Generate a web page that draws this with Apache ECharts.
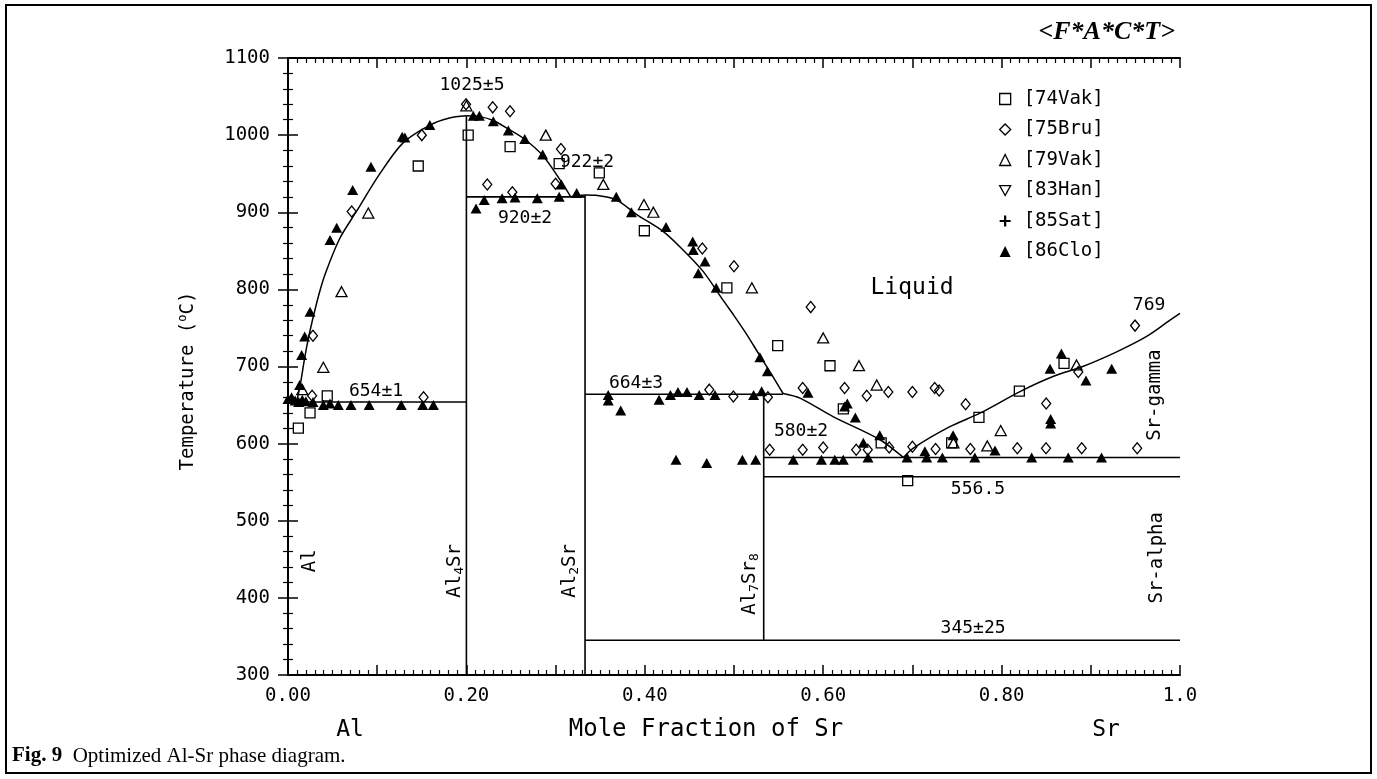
<!DOCTYPE html>
<html>
<head>
<meta charset="utf-8">
<script src="https://cdn.jsdelivr.net/npm/echarts@6/dist/echarts.min.js"></script>
<style>
html, body { margin: 0; padding: 0; background: #fff; }
#chart { width: 1377px; height: 779px; }
</style>
</head>
<body>
<div id="chart"></div>
<script>
// tick labels
var xTickText = ['0.00', '', '0.20', '', '0.40', '', '0.60', '', '0.80', '', '1.0'];
var yMin = 300, yMax = 1100, yStep = 100;

// experimental points [mole fraction Sr, T in C]
var vak74 = [[0.0116, 620], [0.0247, 640], [0.044, 662], [0.146, 960], [0.202, 1000], [0.249, 985], [0.304, 963],
    [0.349, 951], [0.3995, 876], [0.492, 802], [0.549, 727], [0.6076, 701], [0.6226, 645], [0.665, 601],
    [0.6947, 552], [0.744, 601], [0.7746, 634], [0.8199, 668], [0.87, 704]];
var bru75 = [[0.028, 740], [0.027, 662], [0.0714, 901], [0.15, 1000], [0.152, 660], [0.1996, 1040], [0.2234, 936],
    [0.2295, 1036], [0.2489, 1031], [0.2515, 926], [0.300, 937], [0.306, 982], [0.4645, 853], [0.4723, 670],
    [0.4993, 661], [0.5, 830], [0.538, 660], [0.540, 592], [0.577, 592], [0.577, 672], [0.586, 777], [0.600, 595],
    [0.624, 672], [0.637, 592], [0.6488, 662], [0.650, 592], [0.673, 667], [0.674, 595], [0.70, 667], [0.70, 596],
    [0.725, 672], [0.730, 669], [0.726, 593], [0.7597, 651], [0.765, 593], [0.8176, 594], [0.850, 652],
    [0.8498, 594], [0.886, 693], [0.8898, 594], [0.9496, 753], [0.952, 594]];
var vak79 = [[0.016, 670], [0.0396, 699], [0.06, 797], [0.09, 899], [0.2, 1038], [0.289, 1000], [0.3535, 936],
    [0.399, 910], [0.4096, 900], [0.52, 802], [0.6, 737], [0.6401, 701], [0.66, 676], [0.746, 601], [0.784, 597],
    [0.799, 617], [0.884, 702]];
var han83 = [];
var sat85 = [];
var clo86 = [[0.0, 658], [0.004, 660], [0.008, 656], [0.012, 654], [0.016, 657], [0.02, 655], [0.013, 676],
    [0.0153, 715], [0.0187, 739], [0.0247, 771], [0.028, 654], [0.0396, 650], [0.047, 652], [0.0564, 650],
    [0.0706, 650], [0.091, 650], [0.127, 650], [0.151, 650], [0.163, 650], [0.0471, 864], [0.0546, 880],
    [0.0725, 929], [0.093, 959], [0.128, 998], [0.131, 997], [0.159, 1013], [0.2077, 1025], [0.2145, 1025],
    [0.2302, 1018], [0.247, 1006], [0.2654, 995], [0.2855, 975], [0.3065, 936], [0.3236, 925], [0.2108, 905],
    [0.220, 916], [0.240, 918], [0.2545, 919], [0.2795, 918], [0.304, 920], [0.368, 920], [0.385, 900],
    [0.4238, 881], [0.4537, 862], [0.4544, 851], [0.46, 821], [0.4675, 836], [0.48, 802], [0.529, 712],
    [0.5374, 694], [0.359, 663], [0.359, 656], [0.373, 643], [0.416, 657], [0.4287, 663], [0.4372, 667],
    [0.4473, 667], [0.461, 663], [0.4787, 663], [0.522, 663], [0.531, 668], [0.435, 579], [0.4694, 575],
    [0.5094, 579], [0.5243, 579], [0.5665, 579], [0.583, 666], [0.598, 579], [0.613, 579], [0.6225, 579],
    [0.624, 648], [0.627, 652], [0.636, 634], [0.645, 601], [0.6502, 582], [0.6634, 611], [0.694, 582],
    [0.714, 590], [0.716, 582], [0.7336, 582], [0.7456, 611], [0.770, 582], [0.7926, 591], [0.8337, 582],
    [0.8543, 697], [0.855, 632], [0.855, 626], [0.867, 717], [0.8747, 582], [0.8946, 682], [0.912, 582],
    [0.9234, 697]];

// calculated liquidus, split at the invariant points
var liqAl = [[0.0097, 654], [0.014, 678], [0.0185, 710], [0.0235, 740], [0.0295, 770], [0.0355, 797],
    [0.042, 821], [0.058, 866], [0.0767, 901], [0.103, 950], [0.129, 990], [0.159, 1013], [0.18, 1022], [0.2, 1025]];
var liqAl4Sr = [[0.2, 1025], [0.215, 1024], [0.23, 1019], [0.247, 1008], [0.265, 995], [0.286, 973], [0.305, 942],
    [0.317, 920]];
var liqAl2Sr = [[0.317, 920], [0.333, 922.5], [0.345, 922], [0.368, 916], [0.391, 897], [0.4208, 875], [0.443, 851],
    [0.4656, 823], [0.4877, 786], [0.5, 766], [0.514, 742], [0.529, 714], [0.542, 690], [0.555, 665]];
var liqAl7Sr8 = [[0.555, 665], [0.574, 659], [0.611, 635], [0.6637, 605], [0.69, 582]];
var liqSr = [[0.69, 582], [0.7007, 594], [0.742, 622], [0.7758, 639.5], [0.8206, 667.5], [0.8576, 687], [0.891, 700],
    [0.929, 719], [0.9626, 739], [0.9888, 760], [1.0, 769]];

// invariant lines and compound lines
var invariants = [
    [[0, 654], [0.2, 654]],
    [[0.2, 300], [0.2, 1025]],
    [[0.2, 920], [0.333, 920]],
    [[0.333, 300], [0.333, 922]],
    [[0.333, 664], [0.555, 664]],
    [[0.5333, 345], [0.5333, 664]],
    [[0.333, 345], [1.0, 345]],
    [[0.5333, 582], [1.0, 582]],
    [[0.5333, 557], [1.0, 557]]
];

// annotations [text, x, T]
var notes = [
    ['1025±5', 0.2063, 1065], ['922±2', 0.3352, 965], ['920±2', 0.2657, 892], ['654±1', 0.0987, 668],
    ['664±3', 0.3901, 678], ['580±2', 0.5751, 616], ['556.5', 0.7735, 541], ['345±25', 0.768, 361],
    ['769', 0.9653, 779]
];
var phaseNotes = [
    ['Al', 0.0247, 448], ['Al{s|4}Sr', 0.1872, 435], ['Al{s|2}Sr', 0.3161, 435], ['Al{s|7}Sr{s|8}', 0.518, 418],
    ['Sr-gamma', 0.972, 663], ['Sr-alpha', 0.9739, 452]
];
var regionNotes = [['Liquid', 0.6996, 802]];

var mono = '"DejaVu Sans Mono", monospace';
var hollow = { color: 'rgba(255,255,255,0)', borderColor: '#000', borderWidth: 1.3, opacity: 1 };
var solid = { color: '#000', opacity: 1 };
var plusPath = 'path://M4,0H6V4H10V6H6V10H4V6H0V4H4Z';
var downTri = 'path://M0,0L10,0L5,9Z';

var myChart = echarts.init(document.getElementById('chart'));

function marker(name, data, symbol, size, style) {
    return { name: name, type: 'scatter', data: data, symbol: symbol, symbolSize: size, itemStyle: style, z: 5, silent: true };
}

function noteSeries(list, rotate, size) {
    return {
        type: 'scatter', symbolSize: 0, silent: true, z: 10,
        itemStyle: { color: '#000', opacity: 1 },
        data: list.map(function (n) { return { name: n[0], value: [n[1], n[2]] }; }),
        label: {
            show: true, position: 'inside', formatter: '{b}', rotate: rotate, color: '#000', opacity: 1,
            textBorderWidth: 0, fontFamily: mono, fontSize: size, lineHeight: 22,
            rich: { s: { fontFamily: mono, fontSize: 13, verticalAlign: 'bottom', lineHeight: 22, color: '#000', textBorderWidth: 0 } }
        }
    };
}

var series = [];
invariants.forEach(function (seg) {
    series.push({ type: 'line', data: seg, symbol: 'none', silent: true, z: 3, lineStyle: { color: '#000', width: 1.6 } });
});
[liqAl, liqAl4Sr, liqAl2Sr, liqAl7Sr8, liqSr].forEach(function (c) {
    series.push({ type: 'line', data: c, symbol: 'none', smooth: 0.3, silent: true, z: 3, lineStyle: { color: '#000', width: 1.5 } });
});
series.push(marker('[74Vak]', vak74, 'rect', 10, hollow));
series.push(marker('[75Bru]', bru75, 'diamond', [9, 11], hollow));
series.push(marker('[79Vak]', vak79, 'triangle', [11, 10], hollow));
series.push(marker('[83Han]', han83, downTri, [11, 10], hollow));
series.push(marker('[85Sat]', sat85, plusPath, 10, solid));
series.push(marker('[86Clo]', clo86, 'triangle', [11, 10], solid));
series.push(noteSeries(notes, 0, 18));
series.push(noteSeries(phaseNotes, 90, 19));
series.push(noteSeries(regionNotes, 0, 23));

function xAxisOf(pos, labels) {
    return {
        type: 'value', position: pos, min: 0, max: 1, interval: 0.1,
        axisLine: { show: true, lineStyle: { color: '#000', width: 2 } },
        axisTick: { show: true, inside: true, length: 10, lineStyle: { color: '#000', width: 1.5 } },
        minorTick: { show: true, splitNumber: 10, length: 5, lineStyle: { color: '#000', width: 1.2 } },
        splitLine: { show: false },
        axisLabel: {
            show: labels, margin: 12, color: '#000', fontFamily: mono, fontSize: 19,
            formatter: function (v) { return xTickText[Math.round(v * 10)] || ''; }
        }
    };
}
function yAxisOf(pos, labels) {
    return {
        type: 'value', position: pos, min: yMin, max: yMax, interval: yStep,
        axisLine: { show: true, lineStyle: { color: '#000', width: 2 } },
        axisTick: { show: true, inside: true, length: 10, lineStyle: { color: '#000', width: 1.5 } },
        minorTick: { show: true, splitNumber: 5, length: 5, lineStyle: { color: '#000', width: 1.2 } },
        splitLine: { show: false },
        axisLabel: {
            show: labels, margin: 18, color: '#000', fontFamily: mono, fontSize: 19,
            formatter: function (v) { return String(v); }
        }
    };
}

var legendNames = [
    { name: '[74Vak]', icon: 'rect', itemStyle: hollow },
    { name: '[75Bru]', icon: 'diamond', itemStyle: hollow },
    { name: '[79Vak]', icon: 'triangle', itemStyle: hollow },
    { name: '[83Han]', icon: downTri, itemStyle: hollow },
    { name: '[85Sat]', icon: plusPath, itemStyle: solid },
    { name: '[86Clo]', icon: 'triangle', itemStyle: solid }
];

option = {
    backgroundColor: '#fff',
    animation: false,
    grid: { left: 288, right: 197, top: 58, bottom: 104, outerBoundsMode: 'none' },
    xAxis: [xAxisOf('bottom', true), xAxisOf('top', false)],
    yAxis: [yAxisOf('left', true), yAxisOf('right', false)],
    legend: {
        orient: 'vertical', left: 994, top: 84, itemWidth: 11, itemHeight: 11, itemGap: 10.5,
        selectedMode: false,
        textStyle: { color: '#000', fontFamily: mono, fontSize: 19, lineHeight: 20, padding: [0, 0, 0, 8] },
        data: legendNames
    },
    graphic: [
        { type: 'rect', silent: true, shape: { x: 6, y: 5, width: 1365, height: 768 },
          style: { fill: 'none', stroke: '#000', lineWidth: 2 } },
        { type: 'text', x: 1175, y: 32, silent: true,
          style: { text: '<F*A*C*T>', fontFamily: '"Liberation Serif", serif', fontSize: 26, fontStyle: 'italic',
                   fontWeight: 'bold', align: 'right', verticalAlign: 'middle', fill: '#000' } },
        { type: 'text', x: 188, y: 381, rotation: Math.PI / 2, silent: true,
          style: { text: 'Temperature ({s|o}C)', fontFamily: mono, fontSize: 19, lineHeight: 22,
                   align: 'center', verticalAlign: 'middle', fill: '#000',
                   rich: { s: { fontFamily: mono, fontSize: 12, verticalAlign: 'top', lineHeight: 22 } } } },
        { type: 'text', x: 350, y: 730, silent: true,
          style: { text: 'Al', fontFamily: mono, fontSize: 23, align: 'center', verticalAlign: 'middle', fill: '#000' } },
        { type: 'text', x: 706, y: 730, silent: true,
          style: { text: 'Mole Fraction of Sr', fontFamily: mono, fontSize: 24, align: 'center', verticalAlign: 'middle', fill: '#000' } },
        { type: 'text', x: 1106, y: 730, silent: true,
          style: { text: 'Sr', fontFamily: mono, fontSize: 23, align: 'center', verticalAlign: 'middle', fill: '#000' } },
        { type: 'text', x: 12, y: 756, silent: true,
          style: { text: '{b|Fig. 9}  Optimized Al-Sr phase diagram.', fontFamily: '"Liberation Serif", serif',
                   fontSize: 21, verticalAlign: 'middle', fill: '#000',
                   rich: { b: { fontFamily: '"Liberation Serif", serif', fontSize: 21, fontWeight: 'bold' } } } }
    ],
    series: series
};

myChart.setOption(option, true);
</script>
</body>
</html>
